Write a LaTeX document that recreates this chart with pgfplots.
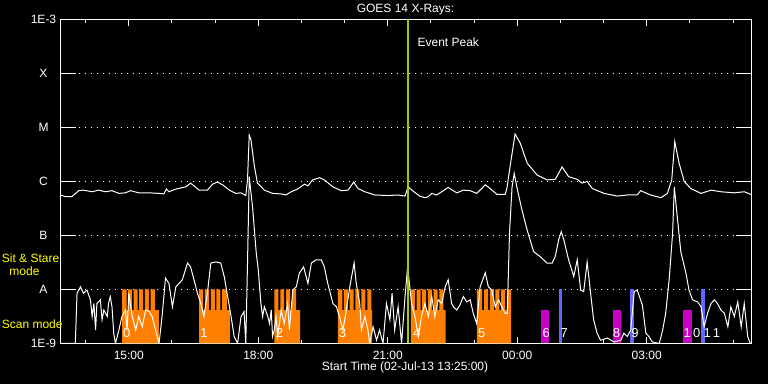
\documentclass[border=0pt]{standalone}
\usepackage{fontspec}
\setmainfont{Liberation Sans}
\usepackage{pgfplots}
\usepackage{pgfplotstable}
\pgfplotsset{compat=1.18}
\definecolor{scanorange}{RGB}{255,128,0}
\definecolor{ssmag}{RGB}{200,0,200}
\definecolor{ssblue}{RGB}{100,100,255}
\definecolor{peakgreen}{RGB}{160,204,0}
\definecolor{lblyellow}{RGB}{255,255,0}

% hours since 02-Jul-13 00:00, log10(flux in W/m^2)
\pgfplotstableread{
h L
13.42 -6.25
13.53 -6.28
13.68 -6.28
13.84 -6.17
13.95 -6.16
14.15 -6.19
14.30 -6.16
14.46 -6.19
14.61 -6.17
14.77 -6.22
14.92 -6.21
15.04 -6.17
15.23 -6.21
15.47 -6.21
15.70 -6.22
15.81 -6.23
15.87 -6.14
15.93 -6.19
16.09 -6.14
16.32 -6.10
16.43 -6.03
16.63 -6.16
16.82 -6.16
16.94 -6.05
17.05 -6.01
17.17 -6.06
17.33 -6.16
17.48 -6.22
17.60 -6.21
17.71 -6.26
17.75 -5.97
17.79 -5.14
17.83 -5.23
17.91 -5.72
17.98 -6.03
18.02 -6.06
18.14 -6.16
18.33 -6.22
18.53 -6.23
18.64 -6.25
18.76 -6.19
18.91 -6.14
19.07 -6.05
19.15 -6.08
19.26 -5.97
19.42 -5.93
19.53 -5.97
19.73 -6.10
19.92 -6.17
20.08 -6.16
20.21 -6.01
20.31 -6.13
20.47 -6.19
20.70 -6.25
21.01 -6.26
21.24 -6.25
21.40 -6.27
21.47 -6.10
21.59 -6.18
21.74 -6.27
21.86 -6.30
21.94 -6.28
22.02 -6.22
22.13 -6.25
22.25 -6.19
22.40 -6.11
22.60 -6.21
22.75 -6.16
22.91 -6.17
23.06 -6.22
23.26 -6.06
23.37 -6.13
23.53 -6.24
23.72 -6.24
23.76 -6.13
23.84 -5.69
23.95 -5.12
24.07 -5.29
24.23 -5.66
24.46 -5.88
24.69 -5.97
24.88 -5.96
25.04 -5.73
25.19 -5.91
25.39 -5.96
25.50 -6.03
25.62 -6.00
25.74 -6.13
26.01 -6.22
26.32 -6.27
26.55 -6.25
26.78 -6.25
26.86 -6.17
27.09 -6.25
27.33 -6.30
27.48 -6.22
27.58 -5.97
27.65 -5.26
27.75 -5.66
27.87 -6.00
28.02 -6.13
28.26 -6.22
28.49 -6.16
28.72 -6.19
29.03 -6.21
29.26 -6.19
29.42 -6.24
}\longch

\pgfplotstableread{
h L
13.42 -9
13.76 -9
13.80 -8.07
13.88 -7.95
13.95 -8.07
14.03 -8.01
14.11 -8.19
14.15 -8.50
14.19 -8.26
14.23 -8.75
14.26 -8.26
14.34 -8.19
14.38 -8.56
14.42 -8.38
14.50 -8.50
14.53 -8.26
14.57 -8.13
14.61 -8.32
14.65 -8.81
14.69 -9
14.77 -8.75
14.84 -8.50
14.92 -8.38
14.96 -8.75
15.00 -8.07
15.08 -8.50
15.16 -8.75
15.23 -8.50
15.31 -8.69
15.39 -8.38
15.47 -8.41
15.54 -8.50
15.62 -8.75
15.70 -9
15.77 -8.50
15.85 -7.79
15.93 -7.89
16.01 -8.32
16.09 -7.95
16.16 -7.89
16.24 -7.82
16.36 -7.51
16.43 -7.58
16.51 -7.82
16.59 -8.07
16.67 -8.26
16.74 -8.50
16.82 -8.07
16.90 -7.51
17.02 -7.49
17.13 -7.51
17.21 -7.76
17.29 -8.13
17.37 -8.50
17.44 -8.87
17.52 -9
17.60 -8.50
17.67 -8.41
17.71 -9
17.75 -7.51
17.79 -5.91
17.87 -6.50
17.95 -7.30
18.00 -7.64
18.06 -8.26
18.10 -8.50
18.14 -8.32
18.22 -8.50
18.26 -8.63
18.30 -8.38
18.33 -8.87
18.37 -8.75
18.41 -8.50
18.45 -8.87
18.53 -8.38
18.60 -8.63
18.68 -8.26
18.72 -8.75
18.80 -8.01
18.88 -7.95
18.95 -7.70
19.05 -7.58
19.15 -7.89
19.23 -7.51
19.34 -7.45
19.46 -7.45
19.53 -7.58
19.61 -7.89
19.73 -8.26
19.81 -8.32
19.88 -8.50
19.96 -8.75
20.04 -8.38
20.12 -7.95
20.22 -7.51
20.27 -7.89
20.35 -8.26
20.39 -8.75
20.47 -8.50
20.54 -8.75
20.58 -9
20.66 -8.69
20.74 -8.94
20.81 -8.75
20.89 -9
20.97 -8.26
21.05 -8.56
21.10 -8.07
21.16 -8.75
21.24 -8.32
21.32 -9
21.40 -8.13
21.46 -7.58
21.51 -7.95
21.55 -8.26
21.63 -8.50
21.71 -8.87
21.78 -8.50
21.86 -8.26
21.94 -8.50
22.02 -8.13
22.09 -8.50
22.17 -8.19
22.25 -8.26
22.33 -7.95
22.40 -7.82
22.48 -8.26
22.52 -8.32
22.60 -8.38
22.67 -8.29
22.75 -8.13
22.83 -8.23
22.91 -8.19
22.98 -8.44
23.06 -8.63
23.14 -7.95
23.26 -7.69
23.33 -7.95
23.41 -8.01
23.49 -8.32
23.57 -8.19
23.64 -8.32
23.72 -8.44
23.77 -8.44
23.82 -6.96
23.88 -6.10
23.93 -5.85
23.99 -6.10
24.11 -6.53
24.23 -6.90
24.38 -7.30
24.53 -7.39
24.69 -7.51
24.81 -7.51
24.88 -7.39
24.96 -7.08
25.02 -6.93
25.08 -7.08
25.19 -7.45
25.31 -7.76
25.39 -7.45
25.47 -8.01
25.54 -8.04
25.62 -7.49
25.70 -8.07
25.77 -8.56
25.85 -8.81
25.93 -8.94
26.09 -8.90
26.24 -8.97
26.40 -8.94
26.47 -8.81
26.55 -8.87
26.63 -8.75
26.71 -8.04
26.78 -8.01
26.90 -8.29
26.98 -8.81
27.05 -8.87
27.13 -8.97
27.29 -9
27.37 -8.75
27.44 -8.44
27.52 -7.82
27.60 -6.96
27.64 -6.10
27.70 -6.59
27.79 -7.30
27.91 -7.70
27.98 -8.01
28.06 -8.19
28.18 -8.23
28.26 -8.32
28.33 -8.69
28.41 -8.44
28.49 -8.26
28.57 -8.19
28.64 -8.26
28.72 -8.38
28.80 -8.44
28.88 -8.69
28.95 -8.32
29.03 -8.50
29.11 -8.23
29.19 -8.69
29.26 -8.26
29.34 -8.87
29.40 -9
}\shortch

\begin{document}
\begin{tikzpicture}[font=\fontsize{12bp}{14bp}\selectfont]
\fill[black] (0,0) rectangle (768bp,384bp);
\path[use as bounding box] (0,0) rectangle (768bp,384bp);
\begin{axis}[
  at={(60.5bp,40.5bp)}, anchor=south west,
  scale only axis, width=690.5bp, height=324bp,
  xmin=13.4167, xmax=29.4167, ymin=-9, ymax=-3,
  axis line style={white, line width=1bp},
  every tick/.style={white, line width=1bp},
  major tick length=15bp,
  xtick style={/pgfplots/major tick length=6.5bp, /pgfplots/minor tick length=3.5bp},
  xtick={15,18,21,24,27},
  xticklabels={15:00,18:00,21:00,00:00,03:00},
  minor xtick={14,16,17,19,20,22,23,25,26,28,29},
  ytick={-9,-8,-7,-6,-5,-4,-3},
  yticklabels={1E-9,A,B,C,M,X,1E-3},
  ymajorgrids,
  major grid style={white, line width=1bp, dash pattern=on 1bp off 5bp},
  tick label style={text=white},
  yticklabel style={anchor=center, xshift=-17bp},
  xticklabel style={anchor=center, yshift=-11.7bp},
]
% scan mode blocks (orange)
\addplot[const plot, fill=scanorange, draw=none] coordinates {
 (14.844,-9) (14.844,-8) (14.947,-8.38) (14.977,-8) (15.070,-8.38) (15.109,-8) (15.202,-8.38)
 (15.240,-8) (15.333,-8.38) (15.372,-8) (15.465,-8.38) (15.505,-8) (15.605,-8.38) (15.698,-9)};
\addplot[const plot, fill=scanorange, draw=none] coordinates {
 (16.628,-9) (16.628,-8) (16.721,-8.38) (16.760,-8) (16.860,-8.38) (16.900,-8) (16.993,-8.38)
 (17.030,-8) (17.123,-8.38) (17.163,-8) (17.272,-8.38) (17.342,-9)};
\addplot[const plot, fill=scanorange, draw=none] coordinates {
 (18.372,-9) (18.372,-8) (18.465,-8.38) (18.512,-8) (18.598,-8.38) (18.644,-8) (18.737,-8.38)
 (18.784,-8) (18.877,-8.38) (18.970,-9)};
\addplot[const plot, fill=scanorange, draw=none] coordinates {
 (19.844,-9) (19.844,-8) (19.947,-8.38) (19.984,-8) (20.077,-8.38) (20.116,-8) (20.209,-8.38)
 (20.249,-8) (20.342,-8.38) (20.388,-8) (20.481,-8.38) (20.528,-8) (20.621,-8.38) (20.635,-9)};
\addplot[const plot, fill=scanorange, draw=none] coordinates {
 (21.535,-9) (21.535,-8) (21.628,-8.38) (21.667,-8) (21.760,-8.38) (21.798,-8) (21.891,-8.38)
 (21.930,-8) (22.023,-8.38) (22.063,-8) (22.156,-8.38) (22.193,-8) (22.286,-8.38) (22.342,-9)};
\addplot[const plot, fill=scanorange, draw=none] coordinates {
 (23.063,-9) (23.063,-8) (23.186,-8.38) (23.233,-8) (23.326,-8.38) (23.365,-8) (23.458,-8.38)
 (23.495,-8) (23.588,-8.38) (23.628,-8) (23.721,-8.38) (23.760,-8) (23.860,-9)};
% sit & stare (magenta) and blue markers
\addplot[fill=ssmag, draw=none] coordinates {(24.558,-9) (24.558,-8.38) (24.744,-8.38) (24.744,-9)};
\addplot[fill=ssmag, draw=none] coordinates {(26.209,-9) (26.209,-8.38) (26.395,-8.38) (26.395,-9)};
\addplot[fill=ssmag, draw=none] coordinates {(27.837,-9) (27.837,-8.38) (28.047,-8.38) (28.047,-9)};
\addplot[fill=ssblue, draw=none] coordinates {(24.977,-9) (24.977,-8) (25.047,-8) (25.047,-9)};
\addplot[fill=ssblue, draw=none] coordinates {(26.621,-9) (26.621,-8) (26.698,-8) (26.698,-9)};
\addplot[fill=ssblue, draw=none] coordinates {(28.256,-9) (28.256,-8) (28.342,-8) (28.342,-9)};
% GOES curves
\addplot[white, line width=1bp] table[x=h, y=L] {\longch};
\addplot[white, line width=1bp] table[x=h, y=L] {\shortch};
% event peak
\addplot[peakgreen, line width=2bp] coordinates {(21.48,-9) (21.48,-3)};
% numbers
\begin{scope}[every node/.style={text=white, font=\fontsize{13bp}{15bp}\selectfont}]
\node at (axis cs:14.95,-8.81) {0};
\node at (axis cs:16.74,-8.81) {1};
\node at (axis cs:18.49,-8.81) {2};
\node at (axis cs:19.95,-8.81) {3};
\node at (axis cs:21.67,-8.81) {4};
\node at (axis cs:23.18,-8.81) {5};
\node at (axis cs:24.67,-8.81) {6};
\node at (axis cs:25.09,-8.81) {7};
\node at (axis cs:26.30,-8.81) {8};
\node at (axis cs:26.73,-8.81) {9};
\node at (axis cs:28.05,-8.81) {1\,0};
\node at (axis cs:28.51,-8.81) {1\,1};
\end{scope}
\end{axis}
\node[text=white] at (405.5bp,374bp) {GOES 14 X-Rays:};
\node[text=white] at (448.3bp,341.3bp) {Event Peak};
\node[text=white] at (405bp,16.3bp) {Start Time (02-Jul-13 13:25:00)};
\node[text=lblyellow, anchor=west, inner sep=0pt] at (1.7bp,125.5bp) {Sit \& Stare};
\node[text=lblyellow] at (24.5bp,113bp) {mode};
\node[text=lblyellow, anchor=west, inner sep=0pt] at (1.7bp,60bp) {Scan mode};
\end{tikzpicture}
\end{document}
